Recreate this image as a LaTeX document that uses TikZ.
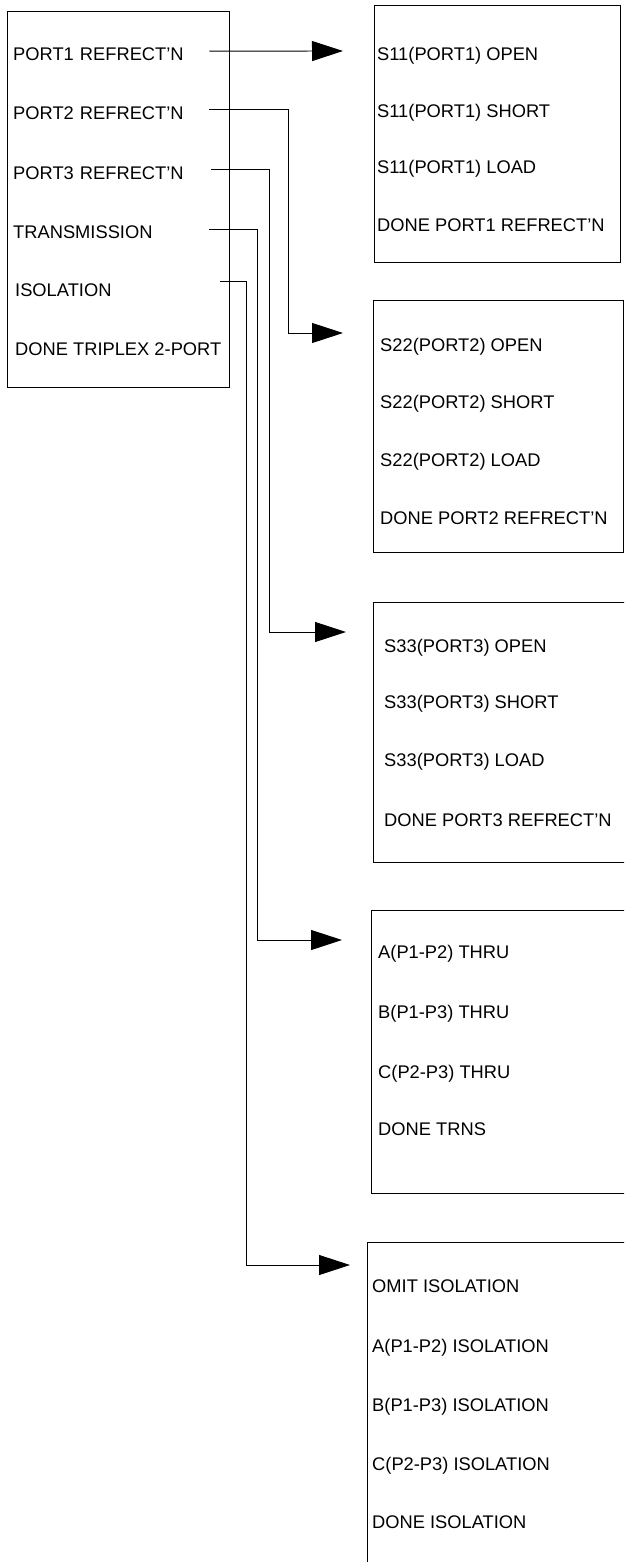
\documentclass[tikz,border=0pt]{standalone}
\usepackage{fontspec}
\setmainfont{Liberation Sans}
\usepackage{tikz}
\usetikzlibrary{arrows.meta, positioning}

\begin{document}
\begin{tikzpicture}[
        x=1pt, y=-1pt,
        menubox/.style={rectangle, draw=black, line width=1pt, anchor=north west, inner sep=0pt},
        item/.style={anchor=base west, inner sep=0pt, font=\fontsize{18.3}{22}\selectfont},
        mainitem/.style={item, text width=196pt, align=left},
        link/.style={draw=black, line width=0.9pt, -{Triangle[length=31pt, width=20pt]}}
    ]
        \useasboundingbox (0,0) rectangle (624,1562);
        \clip (0,0) rectangle (624,1562);

        % Menú principal
        \node[menubox, minimum width=222pt, minimum height=376pt] (main) at (7,11) {};
        \node[mainitem] (port1) at (13,60.5) {PORT1 REFRECT'N};
        \node[mainitem] (port2) at (13,119.5) {PORT2 REFRECT'N};
        \node[mainitem] (port3) at (13,179.5) {PORT3 REFRECT'N};
        \node[mainitem] (trans) at (13,238.5) {TRANSMISSION};
        \node[mainitem] (iso) at (15,296.5) {ISOLATION};
        \node[item] (done) at (15,355.5) {DONE TRIPLEX 2-PORT};

        % Submenú PORT1
        \node[menubox, minimum width=246pt, minimum height=257pt] (sub1) at (374,5) {};
        \node[item] (open1) at (377,60.5) {S11(PORT1) OPEN};
        \node[item] (short1) at (377,117.5) {S11(PORT1) SHORT};
        \node[item] (load1) at (377,173.5) {S11(PORT1) LOAD};
        \node[item] (done1) at (377,231.5) {DONE PORT1 REFRECT'N};

        % Submenú PORT2
        \node[menubox, minimum width=250pt, minimum height=252pt] (sub2) at (373,300) {};
        \node[item] (open2) at (380,351.5) {S22(PORT2) OPEN};
        \node[item] (short2) at (380,408.5) {S22(PORT2) SHORT};
        \node[item] (load2) at (380,466.5) {S22(PORT2) LOAD};
        \node[item] (done2) at (380,524.5) {DONE PORT2 REFRECT'N};

        % Submenú PORT3
        \node[menubox, minimum width=260pt, minimum height=260pt] (sub3) at (373,602) {};
        \node[item] (open3) at (384,652.5) {S33(PORT3) OPEN};
        \node[item] (short3) at (384,708.5) {S33(PORT3) SHORT};
        \node[item] (load3) at (384,766.5) {S33(PORT3) LOAD};
        \node[item] (done3) at (384,826.5) {DONE PORT3 REFRECT'N};

        % Submenú de transmisión
        \node[menubox, minimum width=262pt, minimum height=283pt] (sub4) at (371,910) {};
        \node[item] (thruA) at (378,958.5) {A(P1-P2) THRU};
        \node[item] (thruB) at (378,1018.5) {B(P1-P3) THRU};
        \node[item] (thruC) at (378,1078.5) {C(P2-P3) THRU};
        \node[item] (done4) at (378,1135.5) {DONE TRNS};

        % Submenú de aislamiento
        \node[menubox, minimum width=266pt, minimum height=340pt] (sub5) at (367,1242) {};
        \node[item] (omit) at (372,1292.5) {OMIT ISOLATION};
        \node[item] (isoA) at (372,1352.5) {A(P1-P2) ISOLATION};
        \node[item] (isoB) at (372,1411.5) {B(P1-P3) ISOLATION};
        \node[item] (isoC) at (372,1470.5) {C(P2-P3) ISOLATION};
        \node[item] (done5) at (372,1528.5) {DONE ISOLATION};

        % Puntas de flecha delante de cada submenú
        \coordinate (in1) at (343,51);
        \coordinate (in2) at (343,333);
        \coordinate (in3) at (346,632);
        \coordinate (in4) at (342,940);
        \coordinate (in5) at (350,1265);

        % Conexiones
        \draw[link] ([yshift=3pt]port1.east) -- (in1);
        \draw[link] ([yshift=4pt]port2.east) -- ++(79,0) |- (in2);
        \draw[link] ([xshift=2pt, yshift=4pt]port3.east) -- ++(58,0) |- (in3);
        \draw[link] ([yshift=3pt]trans.east) -- ++(48,0) |- (in4);
        \draw[link] ([xshift=9pt, yshift=9pt]iso.east) -- ++(26,0) |- (in5);
    \end{tikzpicture}
\end{document}
